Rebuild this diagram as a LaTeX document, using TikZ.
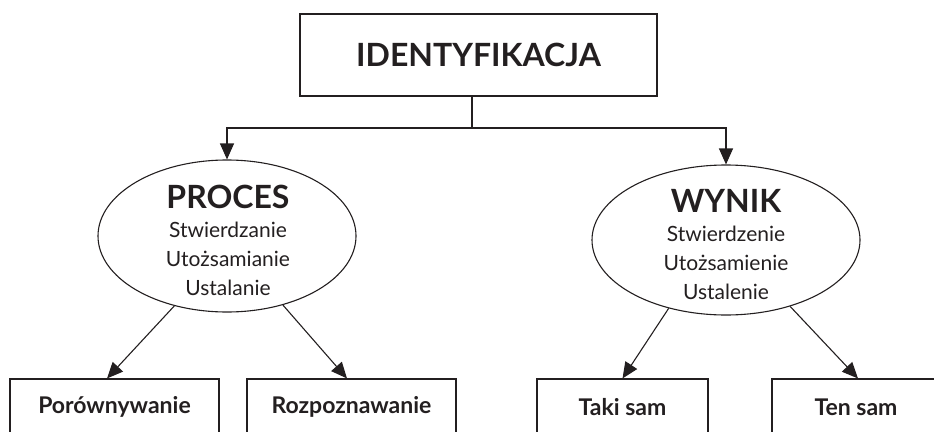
\documentclass[tikz,border=0pt]{standalone}
\usepackage{fontspec}
\setmainfont{Lato}
\usetikzlibrary{shapes.geometric,arrows.meta}
\definecolor{ink}{HTML}{231F20}
\begin{document}
\begin{tikzpicture}[x=1pt,y=1pt,
  line width=1.1pt, draw=ink, text=ink,
  topbox/.style={draw, rectangle, minimum width=357, minimum height=82, inner sep=0},
  leafbox/.style={draw, rectangle, minimum height=56, inner sep=0, font=\fontsize{23}{25}\selectfont\bfseries},
  oval/.style={draw, ellipse, inner sep=0},
  ovaltext/.style={align=center, inner sep=0, font=\fontsize{21}{29}\selectfont},
  arr/.style={-{Triangle[length=16pt,width=14pt]}}]
\useasboundingbox (0,0) rectangle (934,-431);
\clip (0,0) rectangle (934,-431);
% top
\node[topbox, font=\fontsize{32}{34}\selectfont\bfseries] (top) at (478.5,-55) {IDENTYFIKACJA};
% ellipses
\node[oval, minimum width=258, minimum height=152] (proc) at (227,-236) {};
\node[oval, minimum width=268, minimum height=150] (wyn) at (726,-240) {};
\node[ovaltext] (proct) at (228,-240) {{\fontsize{32}{29}\selectfont\bfseries PROCES}\\Stwierdzanie\\Utożsamianie\\Ustalanie};
\node[ovaltext] (wynt) at (726,-245) {{\fontsize{32}{29}\selectfont\bfseries WYNIK}\\Stwierdzenie\\Utożsamienie\\Ustalenie};
% leaves
\node[leafbox, minimum width=209] (por) at (114.5,-407) {Porównywanie};
\node[leafbox, minimum width=209] (roz) at (351.5,-407) {Rozpoznawanie};
\node[leafbox, minimum width=171] (tak) at (622.5,-407) {Taki sam};
\node[leafbox, minimum width=168] (ten) at (856,-407) {Ten sam};
% junction
\coordinate (j) at (472,-128);
\draw (j |- top.south) -- (j);
\draw[arr] (j) -| (proc.north);
\draw[arr] (j) -| (wyn.north);
% diagonals
\draw[arr] (proc.-127) -- ([xshift=-7.5]por.north);
\draw[arr] (proc.-51) -- ([xshift=-4.5]roz.north);
\draw[arr] (wyn.-130) -- (tak.north);
\draw[arr] (wyn.-46) -- ([xshift=2]ten.north);
\end{tikzpicture}
\end{document}
